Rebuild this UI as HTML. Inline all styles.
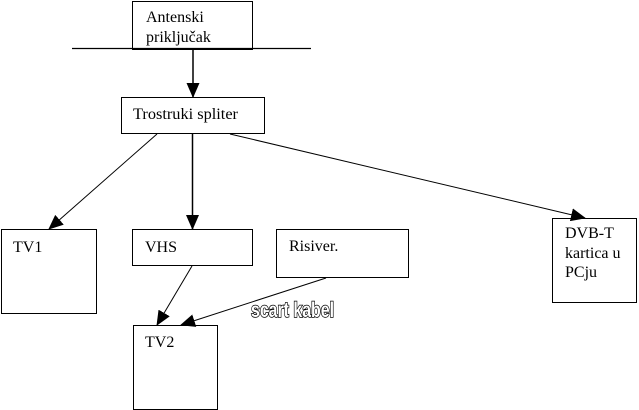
<!DOCTYPE html>
<html><head><meta charset="utf-8"><style>
html,body{margin:0;padding:0;background:#fff;}
svg{display:block;}
text{font-family:"Liberation Serif",serif;font-size:16px;fill:#000;}
</style></head><body>
<svg width="639" height="410" viewBox="0 0 639 410" xmlns="http://www.w3.org/2000/svg">
<defs>
<marker id="ah" markerWidth="15" markerHeight="13" refX="14" refY="6.5" orient="auto" markerUnits="userSpaceOnUse">
<path d="M0,0 L15,6.5 L0,13 Z" fill="#000"/>
</marker>
</defs>
<g fill="none" stroke="#000" stroke-width="1">
<rect x="132.5" y="1.5" width="120" height="48"/>
<rect x="121.5" y="97.5" width="143" height="36"/>
<rect x="1.5" y="229.5" width="95" height="84"/>
<rect x="132.5" y="229.5" width="120" height="36"/>
<rect x="276.5" y="229.5" width="132" height="48"/>
<rect x="133.5" y="325.5" width="84" height="84"/>
<rect x="552.5" y="218.5" width="84" height="84"/>
</g>
<line x1="72" y1="48.5" x2="311" y2="48.5" stroke="#000" stroke-width="1.3"/>
<g stroke="#000" fill="none">
<line x1="193" y1="49" x2="193" y2="97" stroke-width="1.5" marker-end="url(#ah)"/>
<line x1="192.5" y1="134" x2="192.5" y2="229" stroke-width="1.5" marker-end="url(#ah)"/>
<line x1="157" y1="134" x2="49" y2="229" stroke-width="1" marker-end="url(#ah)"/>
<line x1="230" y1="134" x2="585" y2="218" stroke-width="1" marker-end="url(#ah)"/>
<line x1="192" y1="266" x2="157" y2="325" stroke-width="1" marker-end="url(#ah)"/>
<line x1="326" y1="278" x2="181" y2="325" stroke-width="1" marker-end="url(#ah)"/>
</g>
<text x="146" y="22">Antenski</text>
<text x="146" y="42">priključak</text>
<text x="133" y="119" textLength="105" lengthAdjust="spacingAndGlyphs">Trostruki spliter</text>
<text x="13" y="252">TV1</text>
<text x="145" y="252">VHS</text>
<text x="289" y="251">Risiver.</text>
<text x="145" y="347">TV2</text>
<text x="565" y="238">DVB-T</text>
<text x="565" y="258">kartica u</text>
<text x="565" y="277">PCju</text>
<text x="251" y="317" textLength="83" lengthAdjust="spacingAndGlyphs" style="font-family:'Liberation Sans Narrow','Liberation Sans',sans-serif;font-weight:bold;font-size:21px;fill:#fff;stroke:#000;stroke-width:1.6;paint-order:stroke">scart kabel</text>
</svg>
</body></html>
